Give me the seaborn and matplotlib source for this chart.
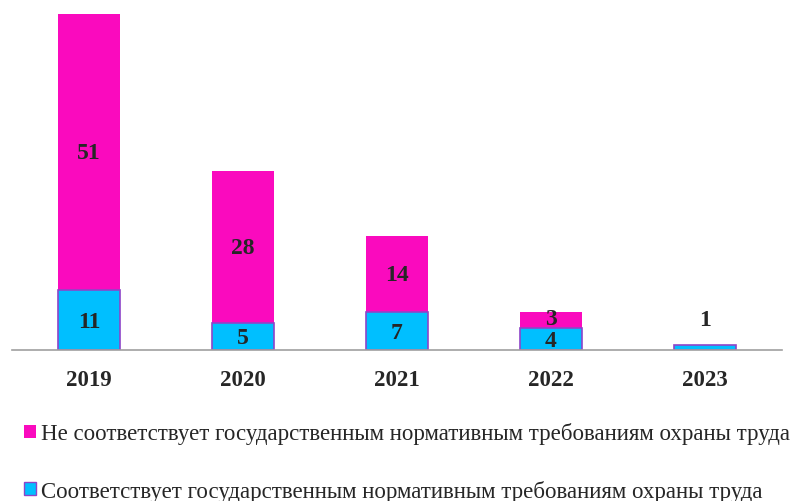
import matplotlib
matplotlib.use("Agg")
import matplotlib.pyplot as plt
import pandas as pd
import seaborn as sns
from matplotlib.patches import Patch

years = ["2019", "2020", "2021", "2022", "2023"]
compliant = [11, 5, 7, 4, 1]
non_compliant = [51, 28, 14, 3, 0]

label_non = "Не соответствует государственным нормативным требованиям охраны труда"
label_ok = "Соответствует государственным нормативным требованиям охраны труда"

blue = "#00BFFF"
magenta = "#FA0ABE"
edge = "#8E44C8"

df = pd.DataFrame({"year": years, "ok": compliant, "non": non_compliant})
df["total"] = df["ok"] + df["non"]

sns.set_style("white")
plt.rcParams["font.family"] = ["Liberation Serif", "DejaVu Serif"]

fig = plt.figure(figsize=(7.97, 5.02), dpi=100)
ax = fig.add_axes([12 / 797, 151 / 502, 770 / 797, 336 / 502])

# stacked: totals first (magenta), then compliant part on top (blue)
sns.barplot(data=df, x="year", y="total", color=magenta, saturation=1,
            width=0.4, edgecolor="none", ax=ax)
sns.barplot(data=df, x="year", y="ok", color=blue, saturation=1,
            width=0.4, edgecolor=edge, linewidth=1.2, ax=ax)

ax.set_ylim(0, 62)
ax.set_xlim(-0.5, 4.5)
ax.set_yticks([])
ax.set_xlabel("")
ax.set_ylabel("")
for s in ["top", "right", "left"]:
    ax.spines[s].set_visible(False)
ax.spines["bottom"].set_color("#A0A0A0")
ax.spines["bottom"].set_linewidth(1.2)

ax.set_xticks([-0.5, 0.5, 1.5, 2.5, 3.5, 4.5], minor=True)
ax.tick_params(axis="x", which="minor", length=7, color="#A0A0A0", width=1.2)
ax.tick_params(axis="x", which="major", length=0, pad=14)
for t in ax.get_xticklabels():
    t.set_fontweight("bold")
    t.set_fontsize(16.5)

# value labels
for i, (ok, non) in enumerate(zip(compliant, non_compliant)):
    if ok >= 3:
        ax.text(i, ok / 2 - 0.2, str(ok), ha="center", va="center",
                fontsize=17, fontweight="bold")
    else:
        ax.text(i, ok + 4.6, str(ok), ha="center", va="center",
                fontsize=17, fontweight="bold")
    if non > 0:
        y = ok + non / 2 if non >= 5 else ok + non / 2 + 0.3
        ax.text(i, y, str(non), ha="center", va="center",
                fontsize=17, fontweight="bold")

handles = [Patch(facecolor=magenta, edgecolor="none"),
           Patch(facecolor=blue, edgecolor=edge)]
fig.legend(handles, [label_non, label_ok], loc="upper left",
           bbox_to_anchor=(15 / 797, 1 - 414 / 502), frameon=False,
           fontsize=16.5, handlelength=0.5, handleheight=0.5,
           handletextpad=0.25, labelspacing=1.55, borderaxespad=0)

fig.savefig("out.png", dpi=100)
